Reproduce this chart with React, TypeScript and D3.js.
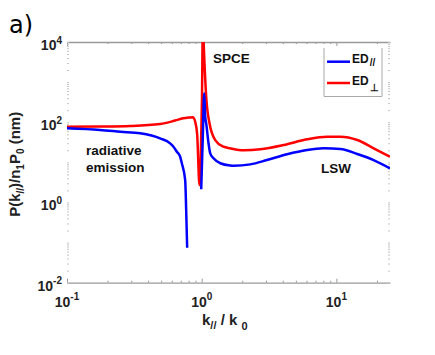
import React, { useEffect, useRef } from "react";
import * as d3 from "d3";

// ED perpendicular (red)
const perpK = [0.1, 0.176, 0.294, 0.491, 0.635, 0.728, 0.8, 0.86, 0.895, 0.926, 0.963, 0.985, 1.005, 1.02, 1.035, 1.049, 1.08, 1.143, 1.26, 1.452, 1.629, 2.046, 2.72, 4.06, 6.05, 8.53, 10.7, 14.3, 18.9, 25];
const perpV = [77, 78, 80.5, 90, 110, 125, 131, 134, 103, 48, 2.7, 15, 400, 30000, 9000, 2940, 432, 94, 36, 24.5, 22.4, 20, 21.1, 27, 37.5, 43.5, 43.5, 36, 22.4, 13.8];

// ED parallel (blue), two branches (no positive value in between)
const parLeftK = [0.1, 0.176, 0.25, 0.349, 0.491, 0.583, 0.617, 0.654, 0.692, 0.712, 0.754, 0.767, 0.78];
const parLeftV = [70.5, 64, 58, 53, 39.7, 29.8, 24.5, 18.4, 13.8, 9.5, 3.6, 0.65, 0.0745];
const parRightK = [0.9915, 1.017, 1.044, 1.062, 1.08, 1.124, 1.157, 1.224, 1.373, 1.629, 1.723, 2.295, 3.05, 4.3, 6.05, 8.05, 10.7, 14.3, 18.9, 25];
const parRightV = [2.13, 34, 526, 137, 94, 29.8, 16.8, 12.6, 9.5, 8.3, 8.2, 8.9, 11.4, 15.9, 20.3, 22.4, 21.5, 16.1, 11.4, 7.1];

const xMajor = [0.1, 1, 10];
const xExp = ["-1", "0", "1"];
const yMajor = [1e-2, 1, 1e2, 1e4];
const yExp = ["-2", "0", "2", "4"];

const FONT = "'Liberation Sans', Arial, Helvetica, sans-serif";

function App() {
    const chart = useRef<SVGSVGElement>(null);

    useEffect(() => {
        const margin = { top: 42, right: 45, bottom: 72.3, left: 67 };
        const width = 435;
        const height = 355;
        const svg = d3.select(chart.current);

        const x = d3.scaleLog().domain([0.1, 25]).range([margin.left, width - margin.right]);
        const y = d3.scaleLog().domain([1e-2, 1e4]).range([height - margin.bottom, margin.top]);
        const isMajor = (d: number) => Math.abs(Math.log10(d) - Math.round(Math.log10(d))) < 1e-6;

        // panel label
        svg.append("text")
            .attr("x", 9).attr("y", 33)
            .attr("font-family", "'DejaVu Sans', sans-serif")
            .attr("font-size", 24)
            .text("a)");

        // top / bottom axes (gray lines, inward ticks)
        const bottom = svg.append("g")
            .attr("transform", `translate(0,${y(1e-2)})`)
            .call(d3.axisTop(x).tickValues(x.ticks()).tickFormat(() => "").tickSizeOuter(0));
        bottom.selectAll(".tick line").attr("y2", (d: any) => isMajor(d) ? -4 : -2);

        const top = svg.append("g")
            .attr("transform", `translate(0,${y(1e4)})`)
            .call(d3.axisBottom(x).tickValues(x.ticks()).tickFormat(() => "").tickSizeOuter(0));
        top.selectAll(".tick line").attr("y2", (d: any) => isMajor(d) ? 4 : 2);

        [bottom, top].forEach(g => {
            g.select(".domain").attr("stroke", "#9a9a9a").attr("stroke-width", 1.3);
            g.selectAll(".tick line").attr("stroke", "#9a9a9a");
        });

        // left / right: only faint ticks
        const left = svg.append("g")
            .attr("transform", `translate(${x(0.1)},0)`)
            .call(d3.axisRight(y).tickValues(y.ticks()).tickFormat(() => "").tickSize(2));
        const right = svg.append("g")
            .attr("transform", `translate(${x(25)},0)`)
            .call(d3.axisLeft(y).tickValues(y.ticks()).tickFormat(() => "").tickSize(2));
        [left, right].forEach(g => {
            g.select(".domain").remove();
            g.selectAll(".tick line").attr("stroke", "#c4c4c4");
        });

        // tick labels
        xMajor.forEach((v, i) => {
            const t = svg.append("text")
                .attr("x", x(v)).attr("y", 307)
                .attr("text-anchor", "middle")
                .attr("font-family", FONT).attr("font-weight", "bold").attr("font-size", 14)
                .attr("fill", "#222");
            t.append("tspan").text("10");
            t.append("tspan").attr("dy", -7).attr("font-size", 10).text(xExp[i]);
        });
        yMajor.forEach((v, i) => {
            const t = svg.append("text")
                .attr("x", 62).attr("y", y(v) + 8)
                .attr("text-anchor", "end")
                .attr("font-family", FONT).attr("font-weight", "bold").attr("font-size", 14)
                .attr("fill", "#222");
            t.append("tspan").text("10");
            t.append("tspan").attr("dy", -6.5).attr("font-size", 10).text(yExp[i]);
        });

        // axis titles
        const xt = svg.append("text")
            .attr("x", 202).attr("y", 325)
            .attr("font-family", FONT).attr("font-weight", "bold").attr("font-size", 15)
            .attr("fill", "#222");
        xt.append("tspan").text("k");
        xt.append("tspan").attr("dy", 4).attr("font-size", 11).text("//");
        xt.append("tspan").attr("dy", -4).text(" / k ");
        xt.append("tspan").attr("dy", 5).attr("font-size", 11).text("0");

        const yt = svg.append("text")
            .attr("transform", `translate(20,${(y(1e-2) + y(1e4)) / 2 + 2}) rotate(-90)`)
            .attr("text-anchor", "middle")
            .attr("font-family", FONT).attr("font-weight", "bold").attr("font-size", 15)
            .attr("fill", "#222");
        yt.append("tspan").text("P(k");
        yt.append("tspan").attr("dy", 4).attr("font-size", 10).text("//");
        yt.append("tspan").attr("dy", -4).text(")/n");
        yt.append("tspan").attr("dy", 4).attr("font-size", 10).text("1");
        yt.append("tspan").attr("dy", -4).text("P");
        yt.append("tspan").attr("dy", 4).attr("font-size", 10).text("0");
        yt.append("tspan").attr("dy", -4).text(" (nm)");

        // curves
        svg.append("clipPath").attr("id", "plot-clip")
            .append("rect")
            .attr("x", x(0.1)).attr("y", y(1e4))
            .attr("width", x(25) - x(0.1)).attr("height", y(1e-2) - y(1e4));

        const line = d3.line<[number, number]>()
            .x(d => x(d[0]))
            .y(d => y(d[1]))
            .curve(d3.curveMonotoneX);

        const curves = svg.append("g").attr("clip-path", "url(#plot-clip)");
        curves.append("path")
            .attr("d", line(d3.zip(perpK, perpV) as [number, number][]))
            .attr("fill", "none").attr("stroke", "#ff0000").attr("stroke-width", 2.5)
            .attr("stroke-linejoin", "round");
        [[parLeftK, parLeftV], [parRightK, parRightV]].forEach(([ks, vs]) => {
            curves.append("path")
                .attr("d", line(d3.zip(ks, vs) as [number, number][]))
                .attr("fill", "none").attr("stroke", "#0000ff").attr("stroke-width", 2.5)
                .attr("stroke-linejoin", "round");
        });

        // annotations
        const note = (tx: number, ty: number, s: string) =>
            svg.append("text")
                .attr("x", tx).attr("y", ty)
                .attr("font-family", FONT).attr("font-weight", "bold").attr("font-size", 13.5)
                .attr("fill", "#111")
                .text(s);
        note(213, 62.5, "SPCE");
        note(86, 155, "radiative");
        note(86, 171.5, "emission");
        note(321, 173.3, "LSW");

        // legend
        svg.append("path")
            .attr("d", "M324,48V96.5H382V48")
            .attr("fill", "none").attr("stroke", "#a8a8a8").attr("stroke-width", 1);
        const entries = [
            { color: "#0000ff", sub: "//", yy: 61.7 },
            { color: "#ff0000", sub: "\u22A5", yy: 83 }
        ];
        entries.forEach(e => {
            svg.append("line")
                .attr("x1", 327).attr("x2", 350)
                .attr("y1", e.yy).attr("y2", e.yy)
                .attr("stroke", e.color).attr("stroke-width", 2.5);
            const t = svg.append("text")
                .attr("x", 352).attr("y", e.yy + 1.5)
                .attr("font-family", FONT).attr("font-weight", "bold").attr("font-size", 12)
                .attr("fill", "#111");
            t.append("tspan").text("ED");
            t.append("tspan").attr("dy", e.sub === "//" ? 3 : 6).attr("dx", 1)
                .attr("font-size", 10).text(e.sub);
        });

        return () => {
            svg.selectAll("*").remove();
        };
    }, []);

    return (
        <svg ref={chart} width={435} height={355}
            style={{ position: "absolute", left: 0, top: 0, background: "#fff" }}></svg>
    );
}

export default App;
